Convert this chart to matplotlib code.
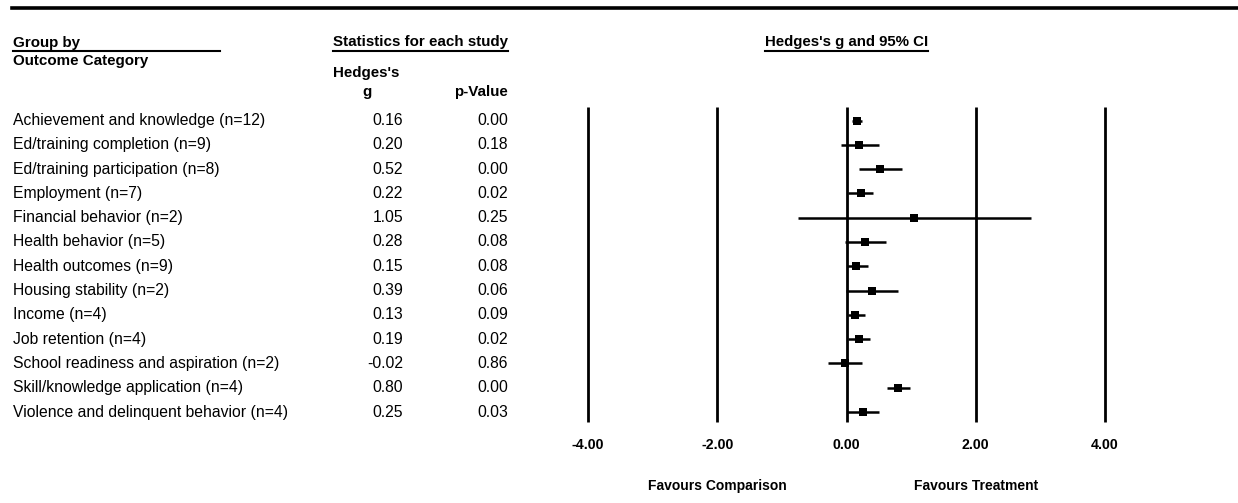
import matplotlib
matplotlib.use("Agg")
import matplotlib.pyplot as plt
from matplotlib.transforms import blended_transform_factory
from matplotlib.lines import Line2D

plt.rcParams['font.family'] = ['Liberation Sans', 'DejaVu Sans']

# ---- data ----
categories = [
    "Achievement and knowledge (n=12)",
    "Ed/training completion (n=9)",
    "Ed/training participation (n=8)",
    "Employment (n=7)",
    "Financial behavior (n=2)",
    "Health behavior (n=5)",
    "Health outcomes (n=9)",
    "Housing stability (n=2)",
    "Income (n=4)",
    "Job retention (n=4)",
    "School readiness and aspiration (n=2)",
    "Skill/knowledge application (n=4)",
    "Violence and delinquent behavior (n=4)",
]
hedges_g = [0.16, 0.20, 0.52, 0.22, 1.05, 0.28, 0.15, 0.39, 0.13, 0.19, -0.02, 0.80, 0.25]
p_values = [0.00, 0.18, 0.00, 0.02, 0.25, 0.08, 0.08, 0.06, 0.09, 0.02, 0.86, 0.00, 0.03]
ci_lower = [0.08, -0.09, 0.19, 0.02, -0.75, -0.03, 0.01, -0.01, 0.03, 0.02, -0.28, 0.62, 0.01]
ci_upper = [0.24, 0.50, 0.86, 0.41, 2.85, 0.61, 0.34, 0.80, 0.29, 0.36, 0.24, 0.99, 0.50]
ticks = [-4, -2, 0, 2, 4]
tick_labels = ["-4.00", "-2.00", "0.00", "2.00", "4.00"]

W, H = 1238, 503
fig = plt.figure(figsize=(W / 100, H / 100), dpi=100)
fig.patch.set_facecolor("white")

def fx(px):
    return px / W

def fy(py):
    return 1 - py / H

# forest axes: x -4..4 -> 588..1105 px, y 107..422 px
ax = fig.add_axes([fx(588), fy(422), (1105 - 588) / W, (422 - 107) / H])
ax.set_xlim(-4, 4)
ax.set_ylim(12.41, -0.556)
ax.axis("off")

for t in ticks:
    ax.axvline(t, color="black", lw=2.0, clip_on=False, solid_capstyle="butt")

rows = list(range(len(categories)))
ax.hlines(rows, ci_lower, ci_upper, color="black", lw=1.8, clip_on=False)
ax.plot(hedges_g, rows, linestyle="none", marker="s", markersize=6.2,
        color="black", markeredgewidth=0, clip_on=False)

# tick labels
tb = blended_transform_factory(ax.transData, fig.transFigure)
for t, lab in zip(ticks, tick_labels):
    fig.text(t, fy(445), lab, transform=tb, ha="center", va="center",
             fontsize=10.2, fontweight="bold")
fig.text(-2, fy(486), "Favours Comparison", transform=tb, ha="center",
         va="center", fontsize=10, fontweight="bold")
fig.text(2, fy(486), "Favours Treatment", transform=tb, ha="center",
         va="center", fontsize=10, fontweight="bold")

# row text
rt = blended_transform_factory(fig.transFigure, ax.transData)
for i, (c, g, p) in enumerate(zip(categories, hedges_g, p_values)):
    fig.text(fx(13), i, c, transform=rt, ha="left", va="center", fontsize=11.3)
    fig.text(fx(403), i, f"{g:.2f}", transform=rt, ha="right", va="center", fontsize=11.3)
    fig.text(fx(508), i, f"{p:.2f}", transform=rt, ha="right", va="center", fontsize=11.3)

# headers
hfs = 10.9
fig.text(fx(13), fy(42.5), "Group by", ha="left", va="center", fontsize=hfs, fontweight="bold")
fig.text(fx(13), fy(60.5), "Outcome Category", ha="left", va="center", fontsize=hfs, fontweight="bold")
fig.text(fx(508), fy(42), "Statistics for each study", ha="right", va="center", fontsize=hfs, fontweight="bold")
fig.text(fx(366), fy(72.5), "Hedges's", ha="center", va="center", fontsize=hfs, fontweight="bold")
fig.text(fx(367), fy(92), "g", ha="center", va="center", fontsize=hfs, fontweight="bold")
fig.text(fx(508), fy(92), "p-Value", ha="right", va="center", fontsize=hfs, fontweight="bold")
fig.text(0, fy(42), "Hedges's g and 95% CI", transform=tb, ha="center", va="center",
         fontsize=10.8, fontweight="bold")

# rules / underlines
def hline(x0, x1, y, lw):
    fig.add_artist(Line2D([fx(x0), fx(x1)], [fy(y), fy(y)], color="black", lw=lw,
                          transform=fig.transFigure))

hline(12, 1238, 8, 2.6)
hline(13, 220, 50.5, 1.5)
hline(333, 508, 50.5, 1.5)
hline(765, 928, 50.5, 1.5)

fig.savefig("out.png", dpi=100, facecolor="white")
